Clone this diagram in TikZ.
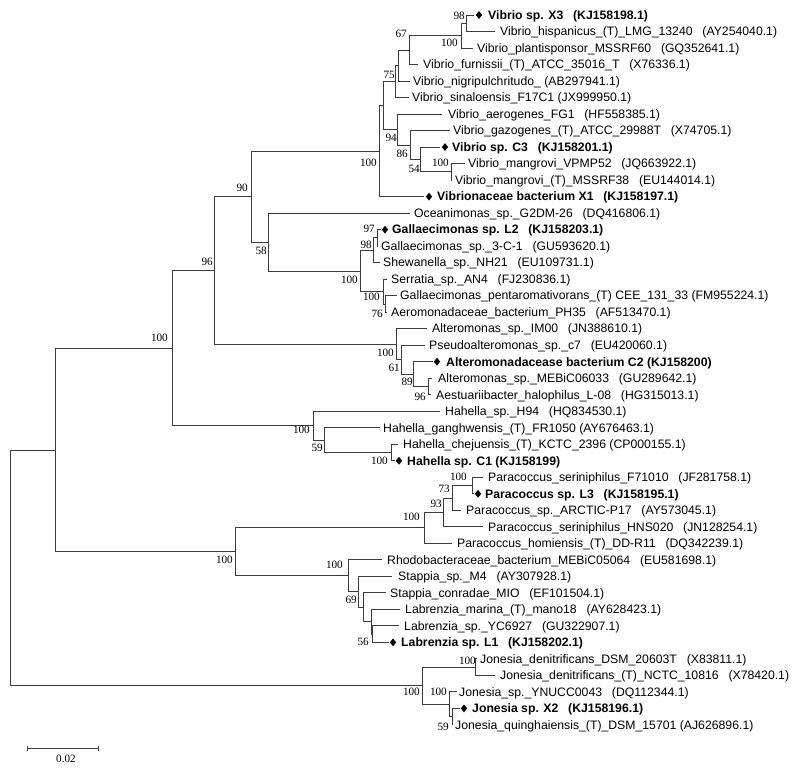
\documentclass[tikz,border=0pt]{standalone}
\usepackage{fontspec}
\setmainfont{Liberation Sans}
\newfontfamily\bootfont{Liberation Serif}
\usetikzlibrary{shapes.geometric}
\definecolor{branchgray}{RGB}{60,60,60}
\newcommand{\accgap}{\hspace{0.8em}}

\begin{document}
\begin{tikzpicture}[x=1pt, y=-1pt,
	branch/.style={draw=branchgray, line width=0.9pt},
	taxon/.style={anchor=west, inner sep=0pt, text height=8.6pt, text depth=0pt, font=\fontsize{12.25}{14}\selectfont},
	ourtaxon/.style={taxon, font=\fontsize{12.25}{14}\selectfont\bfseries},
	isolate/.style={diamond, fill=black, inner sep=0pt, minimum width=6.5pt, minimum height=8pt},
	bootval/.style={anchor=east, inner sep=0pt, text height=7.4pt, text depth=0pt, font=\bootfont\fontsize{11.2}{12}\selectfont}]
	\useasboundingbox (0,0) rectangle (800,774);

	% internal nodes of the tree
	\foreach \n/\x/\y in {R0/10/567.9, A/55/450.0, B/172/348.0, C/214/270.4, D/251/196.6,
		V/379/151.1, V1/383/105.6, V2/395/81.6, Q/398/65.5, K67/409/50.1, N100/461/35.6, N98/466/23.25,
		V3/397/129.6, V4/410/145.0, V5/420/159.5, V6/451/171.9,
		F/268/242.0, G/360/271.0, G1/373/250.3, G1a/377/237.9, G2/383/291.6, G2a/385/304.0,
		E/396/344.2, E1/401/359.7, E2/413/374.1, E3/428/386.5,
		H/313/425.7, H1/324/440.2, H2/391/452.6,
		Rh/235/551.9, P/424/527.9, P1/443/512.4, P2/452/498.0, P3/472/485.6,
		S/348/575.8, S1/358/591.8, S2/363/607.3, S3/371/621.8, S4/372/634.2,
		J/422/685.8, J1/475/667.2, J2/449/704.3, J3/452/716.7}
		\coordinate (\n) at (\x,\y);

	% reference sequences
	\foreach \i/\tip/\tx/\name [evaluate=\i as \y using 15+16.51*(\i-1)] in {
		2/495/500/Vibrio\_hispanicus\_(T)\_LMG\_13240\accgap(AY254040.1),
		3/473/477/Vibrio\_plantisponsor\_MSSRF60\accgap(GQ352641.1),
		4/418/423/Vibrio\_furnissii\_(T)\_ATCC\_35016\_T\accgap(X76336.1),
		5/410/413/Vibrio\_nigripulchritudo\_ (AB297941.1),
		6/409/412/Vibrio\_sinaloensis\_F17C1 (JX999950.1),
		7/442/448/Vibrio\_aerogenes\_FG1\accgap(HF558385.1),
		8/450/453/Vibrio\_gazogenes\_(T)\_ATCC\_29988T\accgap(X74705.1),
		10/465/468/Vibrio\_mangrovi\_VPMP52\accgap(JQ663922.1),
		11/452/455/Vibrio\_mangrovi\_(T)\_MSSRF38\accgap(EU144014.1),
		13/410/414/Oceanimonas\_sp.\_G2DM-26\accgap(DQ416806.1),
		15/378/381/Gallaecimonas\_sp.\_3-C-1\accgap(GU593620.1),
		16/380/383/Shewanella\_sp.\_NH21\accgap(EU109731.1),
		17/387/391/Serratia\_sp.\_AN4\accgap(FJ230836.1),
		18/397/400/Gallaecimonas\_pentaromativorans\_(T) CEE\_131\_33 (FM955224.1),
		19/387/391/Aeromonadaceae\_bacterium\_PH35\accgap(AF513470.1),
		20/427/432/Alteromonas\_sp.\_IM00\accgap(JN388610.1),
		21/425/429/Pseudoalteromonas\_sp.\_c7\accgap(EU420060.1),
		23/432/438/Alteromonas\_sp.\_MEBiC06033\accgap(GU289642.1),
		24/431/436/Aestuariibacter\_halophilus\_L-08\accgap(HG315013.1),
		25/440/445/Hahella\_sp.\_H94\accgap(HQ834530.1),
		26/380/383/Hahella\_ganghwensis\_(T)\_FR1050 (AY676463.1),
		27/398/403/Hahella\_chejuensis\_(T)\_KCTC\_2396 (CP000155.1),
		29/483/488/Paracoccus\_seriniphilus\_F71010\accgap(JF281758.1),
		31/461/466/Paracoccus\_sp.\_ARCTIC-P17\accgap(AY573045.1),
		32/483/488/Paracoccus\_seriniphilus\_HNS020\accgap(JN128254.1),
		33/452/457/Paracoccus\_homiensis\_(T)\_DD-R11\accgap(DQ342239.1),
		34/382/387/Rhodobacteraceae\_bacterium\_MEBiC05064\accgap(EU581698.1),
		35/392/398/Stappia\_sp.\_M4\accgap(AY307928.1),
		36/386/390/Stappia\_conradae\_MIO\accgap(EF101504.1),
		37/400/405/Labrenzia\_marina\_(T)\_mano18\accgap(AY628423.1),
		38/399/404/Labrenzia\_sp.\_YC6927\accgap(GU322907.1),
		40/477/480/Jonesia\_denitrificans\_DSM\_20603T\accgap(X83811.1),
		41/495/500/Jonesia\_denitrificans\_(T)\_NCTC\_10816\accgap(X78420.1),
		42/457/459/Jonesia\_sp.\_YNUCC0043\accgap(DQ112344.1),
		44/453/455/Jonesia\_quinghaiensis\_(T)\_DSM\_15701 (AJ626896.1)} {
		\coordinate (t\i) at (\tip,\y);
		\node[taxon] (n\i) at (\tx,\y) {\name};
	}

	% isolates of this study
	\foreach \i/\tip/\dx/\tx/\name [evaluate=\i as \y using 15+16.51*(\i-1)] in {
		1/474/479/488/Vibrio sp. X3\accgap(KJ158198.1),
		9/440/445/452/Vibrio sp. C3\accgap(KJ158201.1),
		12/424/429/437/Vibrionaceae bacterium X1\accgap(KJ158197.1),
		14/381/385/392/Gallaecimonas sp. L2\accgap(KJ158203.1),
		22/433/437/446/Alteromonadacease bacterium C2 (KJ158200),
		28/395/399/407/Hahella sp. C1 (KJ158199),
		30/474/478/485/Paracoccus sp. L3\accgap(KJ158195.1),
		39/389/393/401/Labrenzia sp. L1\accgap(KJ158202.1),
		43/460/464/472/Jonesia sp. X2\accgap(KJ158196.1)} {
		\coordinate (t\i) at (\tip,\y);
		\node[isolate] (d\i) at (\dx,\y) {};
		\node[ourtaxon] (n\i) at (\tx,\y) {\name};
	}

	% branches
	\foreach \p/\c in {R0/A, R0/J, A/B, A/Rh, B/C, B/H, C/D, C/E, D/V, D/F,
		V/V1, V/t12, V1/V2, V1/V3, V2/Q, V2/t6, Q/K67, Q/t5, K67/N100, K67/t4,
		N100/N98, N100/t3, N98/t1, N98/t2, V3/t7, V3/V4, V4/t8, V4/V5, V5/t9, V5/V6, V6/t10, V6/t11,
		F/t13, F/G, G/G1, G/G2, G1/G1a, G1/t16, G1a/t14, G1a/t15, G2/t17, G2/G2a, G2a/t18, G2a/t19,
		E/t20, E/E1, E1/t21, E1/E2, E2/t22, E2/E3, E3/t23, E3/t24,
		H/t25, H/H1, H1/t26, H1/H2, H2/t27, H2/t28,
		Rh/P, Rh/S, P/P1, P/t33, P1/P2, P1/t32, P2/P3, P2/t31, P3/t29, P3/t30,
		S/t34, S/S1, S1/t35, S1/S2, S2/t36, S2/S3, S3/t37, S3/S4, S4/t38, S4/t39,
		J/J1, J/J2, J1/t40, J1/t41, J2/t42, J2/J3, J3/t43, J3/t44}
		\draw[branch] (\p) |- (\c);

	% bootstrap values
	\foreach \x/\y/\v [count=\k] in {465/16/98, 458/43/100, 407/34/67, 395/75/75, 397/138/94,
		408/154/86, 420/169/54, 449/163/100, 377/163/100, 248/188/90, 267/251/58, 213/262/96,
		168/338/100, 375/229/97, 372/245/98, 358/280/100, 380/297/100, 383/314/76,
		394/353/100, 400/368/61, 413/382/89, 426/397/96, 310/430/100, 323/448/59, 388/461/100,
		233/560/100, 420/517/100, 442/504/93, 450/489/73, 467/477/100,
		343/565/100, 357/600/69, 369/642/56, 420/692/100, 447/692/100, 476/661/100, 449/727/59}
		\node[bootval] (bs\k) at (\x,\y) {\v};

	% scale bar
	\coordinate (sbL) at (27,748);
	\coordinate (sbR) at (98,748);
	\draw[branch] (sbL) -- (sbR);
	\draw[branch] ([yshift=2.5pt]sbL) -- ([yshift=-2.5pt]sbL);
	\draw[branch] ([yshift=2.5pt]sbR) -- ([yshift=-2.5pt]sbR);
	\node[bootval, anchor=center] (sblab) at (66,759) {0.02};
\end{tikzpicture}
\end{document}
